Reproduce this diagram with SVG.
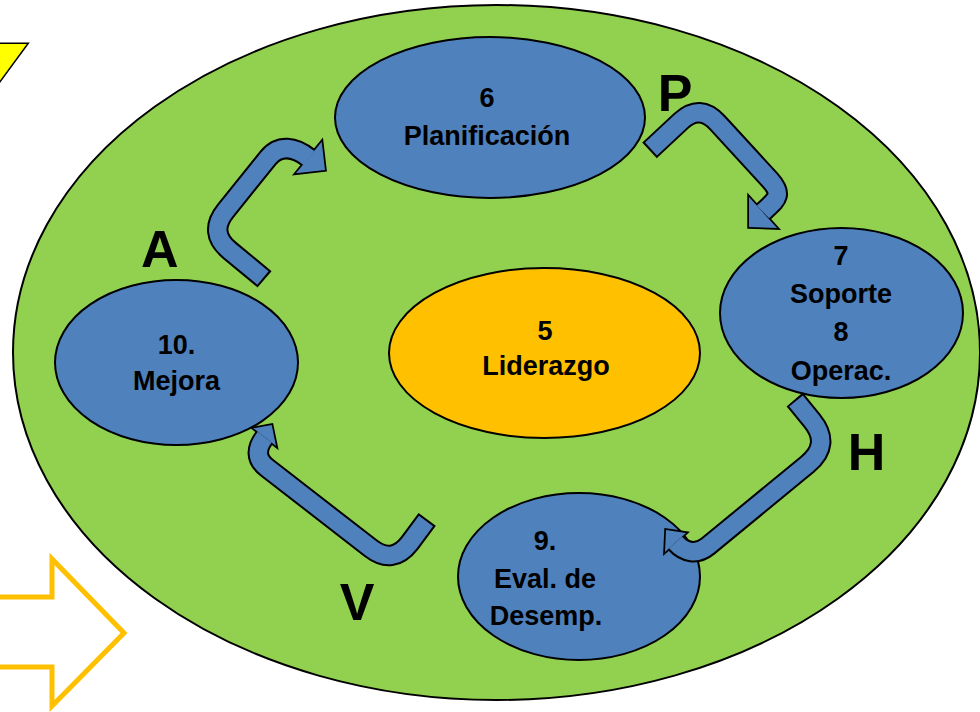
<svg xmlns="http://www.w3.org/2000/svg" width="980" height="712" viewBox="0 0 980 712">
<style>
.bg{fill:#92D050;stroke:#000;stroke-width:2}
.node{fill:#4F81BD;stroke:#000;stroke-width:2}
.lead{fill:#FFC000;stroke:#000;stroke-width:2}
.t{font-family:"Liberation Sans",Arial,sans-serif;font-weight:bold;font-size:27px;fill:#000;text-anchor:middle}
.big{font-family:"Liberation Sans",Arial,sans-serif;font-weight:bold;font-size:52px;fill:#000;text-anchor:middle}
.sho{fill:none;stroke:#000;stroke-width:21.5;stroke-linejoin:round}
.shi{fill:none;stroke:#4F81BD;stroke-width:17.5;stroke-linejoin:round}
.hdo{fill:#4F81BD;stroke:#000;stroke-width:3.5;stroke-linejoin:miter}
.hdi{fill:#4F81BD;stroke:none}
</style>
<rect x="0" y="0" width="980" height="712" fill="#fff"/>
<g id="deco">
<polygon points="-40,43.3 28.3,43.3 -6,90" fill="#FFFF00" stroke="#000" stroke-width="1.5"/>
<polygon points="-10,597 52,597 52,559 124,633 52,706 52,667 -10,667" fill="#fff" stroke="#FFC000" stroke-width="5"/>
</g>
<g id="ciclo">
<ellipse class="bg" cx="496.5" cy="352.5" rx="483.5" ry="347.5"/>
</g>
<g id="n6">
<ellipse class="node" cx="490" cy="117.5" rx="155" ry="80.5"/>
<text class="t" x="487" y="107">6</text>
<text class="t" x="487" y="145">Planificación</text>
</g>
<g id="n78">
<ellipse class="node" cx="841.5" cy="313" rx="121.5" ry="85"/>
<text class="t" x="841" y="265">7</text>
<text class="t" x="841" y="303">Soporte</text>
<text class="t" x="841" y="341">8</text>
<text class="t" x="841" y="380">Operac.</text>
</g>
<g id="n10">
<ellipse class="node" cx="176.5" cy="362.5" rx="121.5" ry="82.5"/>
<text class="t" x="176.5" y="354">10.</text>
<text class="t" x="176.5" y="390">Mejora</text>
</g>
<g id="n5">
<ellipse class="lead" cx="544.5" cy="353" rx="155.5" ry="85"/>
<text class="t" x="545" y="340">5</text>
<text class="t" x="546" y="375">Liderazgo</text>
</g>
<g id="n9">
<ellipse class="node" cx="579" cy="576.5" rx="121" ry="83.5"/>
<text class="t" x="545" y="550">9.</text>
<text class="t" x="545" y="588">Eval. de</text>
<text class="t" x="546" y="625">Desemp.</text>
</g>
<g id="connectors">
<g id="arrow-p">
<path class="sho" d="M649.5,150.4 L651,149 L681,121 Q700,103.5 717.5,122.8 L770,180 C784.8,196.3 774.3,200.7 763,212"/>
<polygon class="hdo" points="749,197 749,227 777,228"/>
<path class="shi" d="M651,149 L681,121 Q700,103.5 717.5,122.8 L770,180 C784.8,196.3 774.3,200.7 763,212"/>
<polygon class="hdi" points="749,197 749,227 777,228"/>
</g>
<g id="arrow-h">
<path class="sho" d="M794.7,399.5 L796,401 L811.9,420.5 Q831.5,444.5 807.5,464.2 L707.9,546.1 C697.1,555 684.9,552.9 675.5,542.5"/>
<polygon class="hdo" points="666,530 686,533 665,552"/>
<path class="shi" d="M796,401 L811.9,420.5 Q831.5,444.5 807.5,464.2 L707.9,546.1 C697.1,555 684.9,552.9 675.5,542.5"/>
<polygon class="hdi" points="666,530 686,533 665,552"/>
</g>
<g id="arrow-v">
<path class="sho" d="M427.2,519.4 L426,521 L409.7,543 Q392.6,565.2 370.5,548 L266.7,467.5 C255.6,458.9 256.1,448.2 264.7,437.2"/>
<polygon class="hdo" points="271.7,425 253.3,428.3 276,446"/>
<path class="shi" d="M426,521 L409.7,543 Q392.6,565.2 370.5,548 L266.7,467.5 C255.6,458.9 256.1,448.2 264.7,437.2"/>
<polygon class="hdi" points="271.7,425 253.3,428.3 276,446"/>
</g>
<g id="arrow-a">
<path class="sho" d="M264.5,279.3 L263,278 L229.6,250.4 Q208,232.5 225.6,210.7 L268,158 C279.3,144 294.8,146.9 309,158"/>
<polygon class="hdo" points="325,170 321.7,141.7 296,173.3"/>
<path class="shi" d="M263,278 L229.6,250.4 Q208,232.5 225.6,210.7 L268,158 C279.3,144 294.8,146.9 309,158"/>
<polygon class="hdi" points="325,170 321.7,141.7 296,173.3"/>
</g>
</g>
<g id="labels">
<text class="big" x="675" y="111">P</text>
<text class="big" x="866.5" y="470">H</text>
<text class="big" x="159.7" y="267">A</text>
<text class="big" x="357" y="620">V</text>
</g>
</svg>
